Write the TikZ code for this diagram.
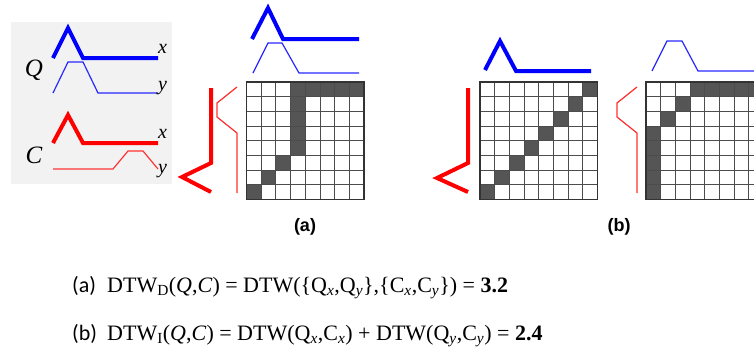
\documentclass[tikz,border=0pt]{standalone}
\usepackage{fontspec}
\setmainfont{Liberation Serif}
\newfontfamily\lsans{Liberation Sans}
\newfontfamily\carl{Carlito}
\definecolor{thickblue}{RGB}{0,0,255}
\definecolor{thinblue}{RGB}{40,40,255}
\definecolor{thickred}{RGB}{255,0,0}
\definecolor{thinred}{RGB}{255,50,50}
\definecolor{panelgray}{RGB}{242,242,242}
\definecolor{cellfill}{RGB}{85,85,85}
\newcommand\dtwgrid[3]{%
  \foreach \cc/\rr in {#3} {\fill[cellfill] ({#1+(\cc-1)*14.7},{#2+(\rr-1)*14.7}) rectangle ++(14.7,14.7);}
  \foreach \i in {1,...,7} {%
    \draw[gridline] ({#1+\i*14.7},#2) -- ++(0,117.6);
    \draw[gridline] (#1,{#2+\i*14.7}) -- ++(117.6,0);}
  \draw[gridborder] (#1,#2) rectangle ++(117.6,117.6);
}
\newcommand\subs[1]{\textsubscript{#1}}
\begin{document}
\begin{tikzpicture}[x=1pt,y=-1pt,
  thickb/.style={draw=thickblue,line width=4pt,line join=miter},
  thinb/.style={draw=thinblue,line width=1.2pt},
  thickr/.style={draw=thickred,line width=4pt,line join=miter},
  thinr/.style={draw=thinred,line width=1.2pt},
  gridline/.style={draw=black!70,line width=1pt},
  gridborder/.style={draw=black!80,line width=1.6pt},
  serlab/.style={font=\fontsize{25}{25}\selectfont\itshape,inner sep=0pt},
  axlab/.style={font=\fontsize{20}{20}\selectfont\itshape,inner sep=0pt,anchor=west},
  panlab/.style={font=\lsans\bfseries\fontsize{18}{18}\selectfont,inner sep=0pt},
  formula/.style={font=\fontsize{22}{22}\selectfont,inner sep=0pt,anchor=base west}]
\useasboundingbox (0,0) rectangle (754,349);
\clip (0,0) rectangle (754,349);
\fill[white] (0,0) rectangle (754,349);
% legend panel
\fill[panelgray] (11,22) rectangle (172,184);
\node[serlab] (Q) at (34,70) {Q};
\node[serlab] (C) at (34,155) {C};
\draw[thickb] (53,58) -- (68,28) -- (83,58) -- (158,58);
\draw[thinb] (53,93) -- (68,62) -- (83,62) -- (98,93) -- (158,93);
\draw[thickr] (53,143) -- (68,115) -- (83,143) -- (158,143);
\draw[thinr] (53,169) -- (113,169) -- (128,151) -- (143,151) -- (158,169);
\node[axlab] (qx) at (158,49) {x};
\node[axlab] (qy) at (158,88) {y};
\node[axlab] (cx) at (158,134) {x};
\node[axlab] (cy) at (158,171) {y};
% panel (a)
\draw[thickb] (252,39) -- (268,8) -- (283,39) -- (359,39);
\draw[thinb] (253,73) -- (268,43) -- (282,43) -- (299,73) -- (359,73);
\draw[thickr] (211,88) -- (211,163) -- (182,177) -- (211,192);
\draw[thinr] (237,87) -- (217,103) -- (217,117) -- (237,133) -- (237,193);
\dtwgrid{246.5}{82}{4/1,5/1,6/1,7/1,8/1,4/2,4/3,4/4,4/5,3/6,2/7,1/8}
\node[panlab] (la) at (305,227) {(a)};
% panel (b)
\draw[thickb] (485,70) -- (500,41) -- (516,71) -- (591,71);
\draw[thickr] (468,88) -- (468,163) -- (437,178) -- (468,192);
\dtwgrid{480}{82}{1/8,2/7,3/6,4/5,5/4,6/3,7/2,8/1}
\draw[thinr] (637,87) -- (617,103) -- (617,117) -- (637,133) -- (637,193);
\draw[thinb] (652,71) -- (667,41) -- (682,41) -- (698,71) -- (770,71);
\dtwgrid{646}{82}{4/1,5/1,6/1,7/1,8/1,3/2,2/3,1/4,1/5,1/6,1/7,1/8}
\node[panlab] (lb) at (619,227) {(b)};
% formulas
\node[formula,font=\carl\fontsize{22}{22}\selectfont] (fa) at (72,292) {(a)};
\node[formula] (ea) at (107,292) {DTW\subs{D}(\textit{Q},\textit{C}) = DTW(\{Q\subs{\textit{x}},Q\subs{\textit{y}}\},\{C\subs{\textit{x}},C\subs{\textit{y}}\}) = \textbf{3.2}};
\node[formula,font=\carl\fontsize{22}{22}\selectfont] (fb) at (72,340) {(b)};
\node[formula] (eb) at (107,340) {DTW\subs{I}(\textit{Q},\textit{C}) = DTW(Q\subs{\textit{x}},C\subs{\textit{x}}) + DTW(Q\subs{\textit{y}},C\subs{\textit{y}}) = \textbf{2.4}};
\end{tikzpicture}
\end{document}
